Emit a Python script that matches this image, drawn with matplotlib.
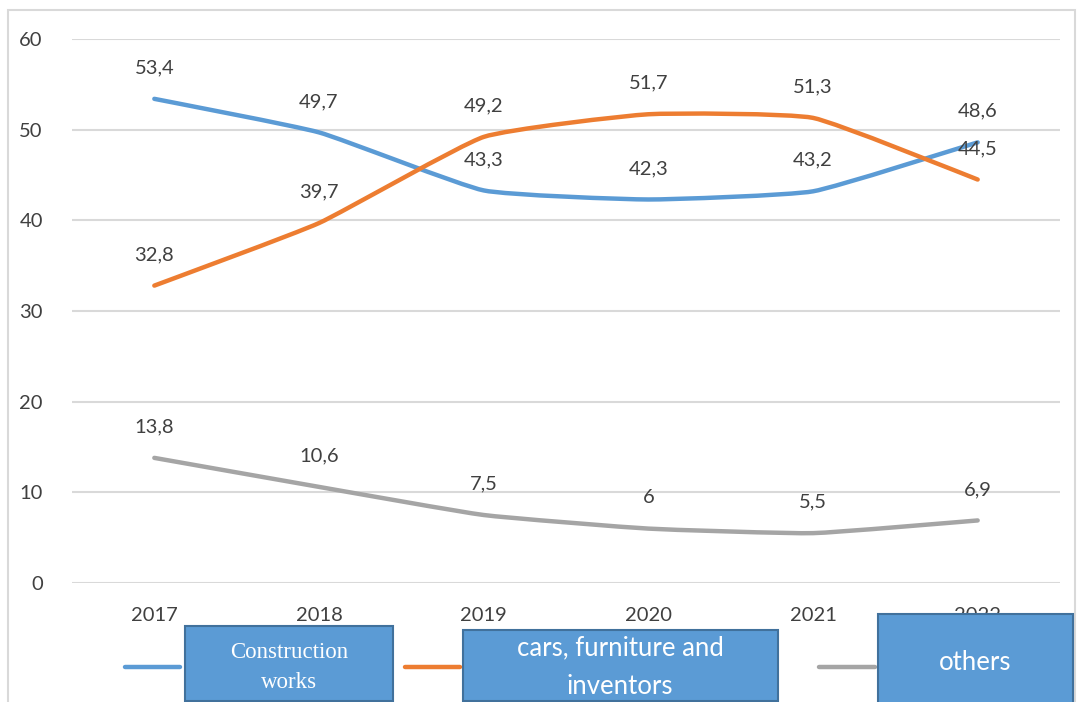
import numpy as np
import matplotlib.pyplot as plt
from matplotlib.path import Path
from matplotlib.patches import PathPatch, Rectangle
from matplotlib.lines import Line2D

years = ['2017', '2018', '2019', '2020', '2021', '2022']
construction = [53.4, 49.7, 43.3, 42.3, 43.2, 48.6]
cars = [32.8, 39.7, 49.2, 51.7, 51.3, 44.5]
others = [13.8, 10.6, 7.5, 6.0, 5.5, 6.9]

BLUE = '#5B9BD5'
ORANGE = '#ED7D31'
GRAY = '#A5A5A5'
TXT = '#404040'
GRID = '#D9D9D9'

plt.rcParams['font.family'] = ['Lato', 'DejaVu Sans']

W, H = 1078, 702
fig = plt.figure(figsize=(W / 100, H / 100), dpi=100)


def fx(px):
    return px / W


def fy(py):
    return (H - py) / H


ax = fig.add_axes([fx(72), fy(583), fx(1060) - fx(72), fy(39) - fy(583)])
ax.set_xlim(-0.5, 5.5)
ax.set_ylim(0, 60)
ax.set_yticks(range(0, 61, 10))
ax.set_xticks(range(len(years)))
ax.set_xticklabels(years)
ax.tick_params(length=0, labelsize=14.5, labelcolor=TXT)
ax.tick_params(axis='y', pad=21)
ax.tick_params(axis='x', pad=17)
for s in ax.spines.values():
    s.set_visible(False)
ax.grid(axis='y', color=GRID, lw=1.5)
ax.set_axisbelow(True)


def smooth_path(xs, ys, k=14):
    # lightly smoothed line: cubic Bezier segments through the points
    pts = np.column_stack([xs, ys]).astype(float)
    n = len(pts)
    verts = [pts[0]]
    codes = [Path.MOVETO]
    for i in range(n - 1):
        p0 = pts[max(i - 1, 0)]
        p1 = pts[i]
        p2 = pts[i + 1]
        p3 = pts[min(i + 2, n - 1)]
        c1 = p1 + (p2 - p0) / k
        c2 = p2 - (p3 - p1) / k
        verts += [c1, c2, p2]
        codes += [Path.CURVE4] * 3
    return Path(verts, codes)


x = np.arange(len(years))
for vals, color in [(construction, BLUE), (cars, ORANGE), (others, GRAY)]:
    ax.add_patch(PathPatch(smooth_path(x, vals), fill=False, edgecolor=color,
                           lw=3.2, capstyle='round', joinstyle='round', zorder=3))
    for xi, v in zip(x, vals):
        lab = f'{v:g}'.replace('.', ',')
        ax.annotate(lab, (xi, v), xytext=(0, 31), textcoords='offset pixels',
                    ha='center', va='center', fontsize=14.5, color=TXT, zorder=4)

# outer chart border
fig.add_artist(Rectangle((fx(8), fy(712)), fx(1075) - fx(8), fy(10) - fy(712),
                         transform=fig.transFigure, fill=False, edgecolor=GRID,
                         lw=1.5, zorder=1))

# legend samples
for x0, x1, color in [(125, 180, BLUE), (405, 460, ORANGE), (819, 875, GRAY)]:
    fig.add_artist(Line2D([fx(x0), fx(x1)], [fy(667), fy(667)], color=color,
                          lw=3.2, solid_capstyle='round', zorder=5))

# legend label boxes
boxes = [(185, 626, 393, 701), (463, 630, 778, 701), (878, 614, 1073, 712)]
for l, t, r, b in boxes:
    fig.add_artist(Rectangle((fx(l), fy(b)), fx(r) - fx(l), fy(t) - fy(b),
                             transform=fig.transFigure, facecolor=BLUE,
                             edgecolor='#41719C', lw=1.5, zorder=6))

serif = ['Liberation Serif', 'DejaVu Serif']
fig.text(fx(289), fy(652), 'Construction', ha='center', va='center',
         color='white', fontsize=16.5, family=serif, zorder=7)
fig.text(fx(289), fy(682), 'works', ha='center', va='center',
         color='white', fontsize=16.5, family=serif, zorder=7)
fig.text(fx(620), fy(648), 'cars, furniture and', ha='center', va='center',
         color='white', fontsize=18.5, zorder=7)
fig.text(fx(620), fy(686), 'inventors', ha='center', va='center',
         color='white', fontsize=18.5, zorder=7)
fig.text(fx(975), fy(662), 'others', ha='center', va='center',
         color='white', fontsize=18.5, zorder=7)

fig.savefig('out.png', dpi=100)
